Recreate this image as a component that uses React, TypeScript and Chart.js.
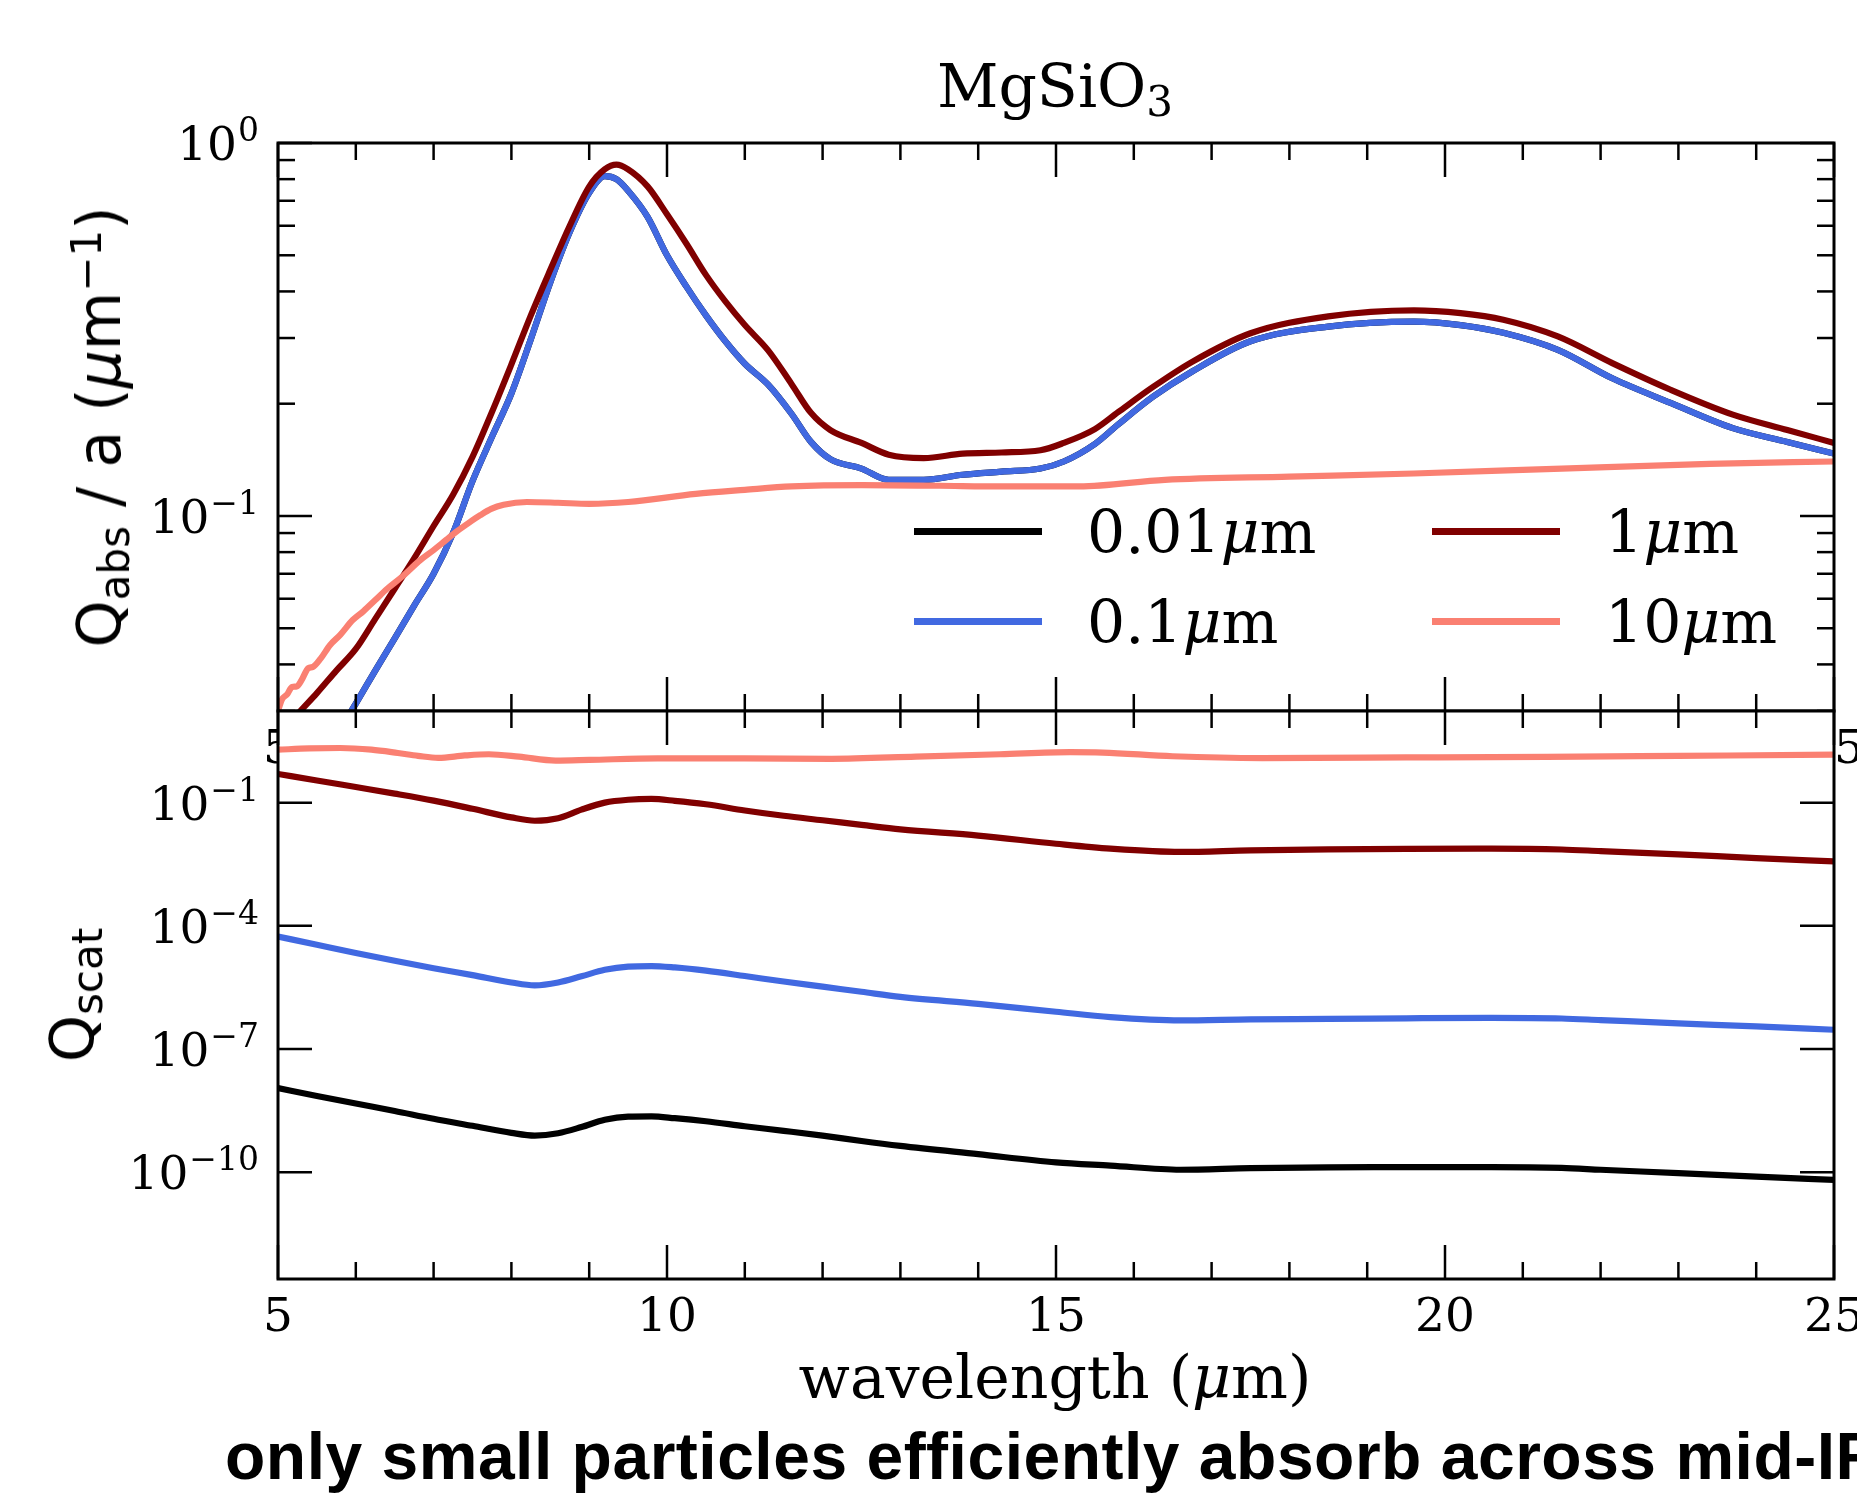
import React, { useEffect, useRef } from "react";
import { Chart, registerables } from "chart.js";

Chart.register(...registerables);

// ---------------- data ----------------
const sizeLabels = ["0.01", "0.1", "1", "10"]; // grain radius in µm
const seriesColors = ["#000000", "#4169E1", "#800000", "#FA8072"];

// absorption panel (Q_abs / a, µm^-1)
const absWavelength = [
  5.0, 5.25, 5.5, 5.75, 6.0, 6.25, 6.5, 6.75, 7.0, 7.25, 7.5, 7.75, 8.0, 8.25, 8.5, 8.75, 9.0, 9.2, 9.35,
  9.5, 9.75, 10.0, 10.25, 10.5, 10.75, 11.0, 11.3, 11.6, 11.85, 12.1, 12.5, 12.85, 13.3, 13.8, 14.3, 14.8,
  15.1, 15.5, 15.8, 16.25, 16.75, 17.5, 18.5, 19.6, 20.2, 20.75, 21.45, 22.15, 22.9, 23.7, 24.4, 25.0,
];
const absQ001 = [
  0.0142, 0.0173, 0.0211, 0.0258, 0.0314, 0.0385, 0.047, 0.0575, 0.07, 0.09, 0.124, 0.163, 0.213, 0.298,
  0.423, 0.577, 0.735, 0.815, 0.8, 0.745, 0.634, 0.5, 0.412, 0.345, 0.294, 0.256, 0.225, 0.188, 0.158,
  0.142, 0.134, 0.125, 0.125, 0.129, 0.1315, 0.134, 0.14, 0.156, 0.176, 0.209, 0.244, 0.294, 0.322, 0.332,
  0.325, 0.31, 0.279, 0.234, 0.201, 0.172, 0.158, 0.147,
];
const absQ01 = [
  0.0142, 0.0173, 0.0211, 0.0258, 0.0314, 0.0385, 0.047, 0.0575, 0.07, 0.09, 0.124, 0.163, 0.213, 0.298,
  0.423, 0.577, 0.735, 0.815, 0.8, 0.745, 0.634, 0.5, 0.412, 0.345, 0.294, 0.256, 0.225, 0.188, 0.158,
  0.142, 0.134, 0.125, 0.125, 0.129, 0.1315, 0.134, 0.14, 0.156, 0.176, 0.209, 0.244, 0.294, 0.322, 0.332,
  0.325, 0.31, 0.279, 0.234, 0.201, 0.172, 0.158, 0.147,
];
const absQ1 = [
  0.0255, 0.0294, 0.0335, 0.0385, 0.044, 0.053, 0.0638, 0.077, 0.094, 0.114, 0.144, 0.19, 0.255, 0.345,
  0.457, 0.6, 0.764, 0.85, 0.875, 0.85, 0.765, 0.644, 0.537, 0.443, 0.376, 0.325, 0.278, 0.226, 0.189,
  0.17, 0.157, 0.146, 0.143, 0.147, 0.148, 0.15, 0.157, 0.171, 0.19, 0.222, 0.259, 0.309, 0.343, 0.356,
  0.35, 0.336, 0.303, 0.257, 0.218, 0.187, 0.17, 0.157,
];
const absWavelength10 = [
  5.0, 5.05, 5.12, 5.18, 5.24, 5.3, 5.39, 5.45, 5.55, 5.67, 5.8, 5.96, 6.1, 6.25, 6.4, 6.59, 6.83, 7.0,
  7.16, 7.3, 7.45, 7.6, 7.74, 7.9, 8.2, 8.6, 9.0, 9.5, 10.37, 11.0, 11.6, 12.5, 13.5, 14.3, 15.3, 16.4,
  18.0, 19.6, 21.5, 23.4, 25.0,
];
const absQ10 = [
  0.03, 0.0322, 0.0333, 0.0348, 0.0349, 0.0362, 0.0391, 0.0394, 0.0415, 0.0451, 0.048, 0.0526, 0.0556,
  0.0595, 0.0637, 0.0686, 0.0762, 0.081, 0.0862, 0.091, 0.0958, 0.1005, 0.1045, 0.1072, 0.109, 0.1085,
  0.1078, 0.109, 0.1146, 0.1175, 0.12, 0.121, 0.1205, 0.12, 0.12, 0.125, 0.1275, 0.13, 0.134, 0.138, 0.14,
];

// scattering panel (Q_scat)
const scatWavelength = [
  5.0, 5.5, 6.0, 6.5, 7.0, 7.5, 8.0, 8.3, 8.6, 8.9, 9.2, 9.5, 9.8, 10.1, 10.5, 11.0, 11.5, 12.0, 12.5,
  13.0, 14.0, 15.0, 15.7, 16.6, 17.5, 18.5, 19.5, 20.6, 21.5, 22.0, 23.0, 24.0, 25.0,
];
const scatQ001 = [
  1.12e-8, 7.2e-9, 4.7e-9, 3.1e-9, 2.0e-9, 1.35e-9, 9.1e-10, 7.8e-10, 8.9e-10, 1.26e-9, 1.9e-9, 2.26e-9,
  2.29e-9, 2.07e-9, 1.74e-9, 1.32e-9, 1.02e-9, 7.8e-10, 5.75e-10, 4.37e-10, 2.75e-10, 1.74e-10, 1.45e-10,
  1.15e-10, 1.26e-10, 1.32e-10, 1.33e-10, 1.33e-10, 1.27e-10, 1.15e-10, 9.5e-11, 7.8e-11, 6.5e-11,
];
const scatQ01 = [
  5.5e-5, 3.47e-5, 2.19e-5, 1.41e-5, 9.3e-6, 6.3e-6, 4.17e-6, 3.55e-6, 4.17e-6, 5.9e-6, 8.5e-6, 1.02e-5,
  1.05e-5, 9.7e-6, 8.1e-6, 6.0e-6, 4.4e-6, 3.3e-6, 2.48e-6, 1.86e-6, 1.26e-6, 8.1e-7, 6.0e-7, 5.0e-7,
  5.3e-7, 5.4e-7, 5.6e-7, 5.75e-7, 5.55e-7, 5.07e-7, 4.23e-7, 3.55e-7, 2.95e-7,
];
const scatQ1 = [
  0.5, 0.347, 0.24, 0.166, 0.112, 0.0708, 0.0437, 0.0363, 0.0417, 0.0676, 0.1, 0.1175, 0.123, 0.111,
  0.0912, 0.0646, 0.0479, 0.0372, 0.0288, 0.0224, 0.0158, 0.01, 0.00759, 0.00631, 0.00692, 0.00731,
  0.0075, 0.00759, 0.00724, 0.00661, 0.0055, 0.00447, 0.00372,
];
const scatWavelength10 = [
  5.0, 5.4, 5.8, 6.2, 6.54, 6.8, 7.06, 7.4, 7.71, 8.1, 8.57, 9.0, 9.88, 11.0, 12.11, 13.2, 14.28, 15.18,
  15.6, 16.5, 17.65, 19.5, 21.3, 23.0, 25.0,
];
const scatQ10 = [
  1.95, 2.09, 2.14, 1.95, 1.62, 1.38, 1.23, 1.41, 1.51, 1.32, 1.06, 1.1, 1.2, 1.2, 1.17, 1.32, 1.51, 1.7,
  1.66, 1.35, 1.22, 1.26, 1.31, 1.38, 1.47,
];

// ticks and ranges
const xMajorTicks = [5, 10, 15, 20, 25];
const xMinorTicks = [6, 7, 8, 9, 11, 12, 13, 14, 16, 17, 18, 19, 21, 22, 23, 24];
const absMajorTicks = [0.1, 1];
const absMinorTicks = [0.03, 0.04, 0.05, 0.06, 0.07, 0.08, 0.09, 0.2, 0.3, 0.4, 0.5, 0.6, 0.7, 0.8, 0.9];
const scatMajorTicks = [1e-1, 1e-4, 1e-7, 1e-10];
const xRange = [5, 25];
const absRange = [0.03, 1];
const scatRange = [Math.pow(10, -12.6), Math.pow(10, 1.232)];

// ---------------- layout ----------------
const W = 1857;
const H = 1502;
const AX_LEFT = 278;
const AX_RIGHT = 1834;
const TOP_Y0 = 143;
const MID_Y = 711;
const BOT_Y1 = 1279;
const TOP_CANVAS_H = 780;
const BOT_CANVAS_TOP = 700;
const BOT_CANVAS_H = H - BOT_CANVAS_TOP;

const MAJ = 34;
const MIN = 17;
const TICK_FONT = 47;
const LINE_W = 6.2;
const SERIF = '"DejaVu Serif", serif';
const SANS = '"DejaVu Sans", sans-serif';

function supMinus(e: number) {
  return e < 0 ? "\u2212" + String(-e) : String(e);
}

function framePlugin(cfg: any) {
  return {
    id: "mplFrame",
    beforeDatasetsDraw(chart: any) {
      if (!cfg.fill) return;
      const { ctx, chartArea: a } = chart;
      ctx.save();
      ctx.fillStyle = "#ffffff";
      ctx.fillRect(a.left, a.top, a.right - a.left, a.bottom - a.top);
      ctx.restore();
    },
    afterDatasetsDraw(chart: any) {
      const { ctx, chartArea: a } = chart;
      const xs = chart.scales.x;
      const ys = chart.scales.y;
      ctx.save();
      ctx.strokeStyle = "#000";
      ctx.lineCap = "butt";
      ctx.lineWidth = 2.5;
      const seg = (x1: number, y1: number, x2: number, y2: number) => {
        ctx.beginPath();
        ctx.moveTo(x1, y1);
        ctx.lineTo(x2, y2);
        ctx.stroke();
      };
      const xt = (vals: number[], len: number) => {
        for (const v of vals) {
          const p = xs.getPixelForValue(v);
          seg(p, a.bottom, p, a.bottom - len);
          seg(p, a.top, p, a.top + len);
        }
      };
      const yt = (vals: number[], len: number) => {
        for (const v of vals) {
          const p = ys.getPixelForValue(v);
          seg(a.left, p, a.left + len, p);
          seg(a.right, p, a.right - len, p);
        }
      };
      xt(cfg.xMajor, MAJ);
      xt(cfg.xMinor, MIN);
      yt(cfg.yMajor, MAJ);
      yt(cfg.yMinor || [], MIN);
      ctx.lineWidth = 3;
      ctx.strokeRect(a.left, a.top, a.right - a.left, a.bottom - a.top);

      // x tick labels
      ctx.fillStyle = "#000";
      ctx.textBaseline = "alphabetic";
      ctx.textAlign = "center";
      ctx.font = `${TICK_FONT}px ${SERIF}`;
      for (const v of cfg.xMajor) {
        ctx.fillText(String(v), xs.getPixelForValue(v), a.bottom + 52);
      }
      // y tick labels 10^n
      ctx.textAlign = "left";
      const supSize = Math.round(TICK_FONT * 0.7);
      for (const v of cfg.yMajor) {
        const p = ys.getPixelForValue(v);
        const exp = supMinus(Math.round(Math.log10(v)));
        ctx.font = `${supSize}px ${SERIF}`;
        const ew = ctx.measureText(exp).width;
        const R = a.left - 19;
        ctx.fillText(exp, R - ew, p + 17 - 19);
        ctx.font = `${TICK_FONT}px ${SERIF}`;
        const bw = ctx.measureText("10").width;
        ctx.fillText("10", R - ew - bw - 1, p + 17);
      }
      ctx.restore();
    },
  };
}

function makeDataset(i: number, xs: number[], ys: number[]) {
  return {
    label: sizeLabels[i] + "\u00b5m",
    data: xs.map((x, k) => ({ x, y: ys[k] })),
    borderColor: seriesColors[i],
    backgroundColor: seriesColors[i],
    borderWidth: LINE_W,
    pointRadius: 0,
    pointHoverRadius: 0,
    fill: false,
    cubicInterpolationMode: "monotone",
    borderJoinStyle: "round",
    order: 3 - i,
  };
}

function makeConfig(datasets: any[], yRange: number[], pad: any, frameCfg: any) {
  return {
    type: "line",
    data: { datasets },
    options: {
      responsive: false,
      maintainAspectRatio: false,
      devicePixelRatio: 1,
      animation: false,
      events: [],
      layout: { padding: pad },
      plugins: { legend: { display: false }, tooltip: { enabled: false }, title: { display: false } },
      scales: {
        x: { type: "linear", min: xRange[0], max: xRange[1], display: false },
        y: { type: "logarithmic", min: yRange[0], max: yRange[1], display: false },
      },
    },
    plugins: [framePlugin(frameCfg)],
  };
}

const subStyle: React.CSSProperties = { fontSize: "0.7em", verticalAlign: "-0.22em", lineHeight: 0 };
const supStyle: React.CSSProperties = { fontSize: "0.7em", verticalAlign: "0.45em", lineHeight: 0 };

export default function App() {
  const topRef = useRef<HTMLCanvasElement>(null);
  const botRef = useRef<HTMLCanvasElement>(null);

  useEffect(() => {
    document.body.style.margin = "0";
    document.body.style.overflow = "hidden";
    const topChart = new Chart(
      topRef.current as HTMLCanvasElement,
      makeConfig(
        [
          makeDataset(0, absWavelength, absQ001),
          makeDataset(1, absWavelength, absQ01),
          makeDataset(2, absWavelength, absQ1),
          makeDataset(3, absWavelength10, absQ10),
        ],
        absRange,
        { left: AX_LEFT, right: W - AX_RIGHT, top: TOP_Y0, bottom: TOP_CANVAS_H - MID_Y },
        { xMajor: xMajorTicks, xMinor: xMinorTicks, yMajor: absMajorTicks, yMinor: absMinorTicks, fill: false }
      ) as any
    );
    const botChart = new Chart(
      botRef.current as HTMLCanvasElement,
      makeConfig(
        [
          makeDataset(0, scatWavelength, scatQ001),
          makeDataset(1, scatWavelength, scatQ01),
          makeDataset(2, scatWavelength, scatQ1),
          makeDataset(3, scatWavelength10, scatQ10),
        ],
        scatRange,
        {
          left: AX_LEFT,
          right: W - AX_RIGHT,
          top: MID_Y - BOT_CANVAS_TOP,
          bottom: BOT_CANVAS_TOP + BOT_CANVAS_H - BOT_Y1,
        },
        { xMajor: xMajorTicks, xMinor: xMinorTicks, yMajor: scatMajorTicks, yMinor: [], fill: true }
      ) as any
    );
    return () => {
      topChart.destroy();
      botChart.destroy();
    };
  }, []);

  const legendLineLeft = [914, 1432];
  const legendTextLeft = [1087, 1605];
  const legendLineY = [531.7, 621.7];
  const legendBaseline = [553, 643];
  const LEG_FONT = 60;

  const baselineTop = (baseline: number, size: number) => baseline - 0.846 * size;

  return (
    <div style={{ position: "relative", width: W, height: H, overflow: "hidden", background: "#fff" }}>
      <canvas ref={topRef} width={W} height={TOP_CANVAS_H} style={{ position: "absolute", left: 0, top: 0 }} />
      <canvas
        ref={botRef}
        width={W}
        height={BOT_CANVAS_H}
        style={{ position: "absolute", left: 0, top: BOT_CANVAS_TOP }}
      />

      {/* title */}
      <div
        style={{
          position: "absolute",
          left: 1055,
          top: baselineTop(107, 60),
          transform: "translateX(-50%)",
          font: `60px ${SERIF}`,
          lineHeight: "60px",
          whiteSpace: "nowrap",
        }}
      >
        MgSiO<span style={subStyle}>3</span>
      </div>

      {/* y label, top */}
      <div
        style={{
          position: "absolute",
          left: 99,
          top: (TOP_Y0 + MID_Y) / 2,
          transform: "translate(-50%, -50%) rotate(-90deg)",
          font: `60px ${SANS}`,
          lineHeight: "60px",
          whiteSpace: "nowrap",
        }}
      >
        Q<span style={subStyle}>abs</span> / a (<span style={{ fontStyle: "italic" }}>μ</span>m
        <span style={supStyle}>{"\u22121"}</span>)
      </div>

      {/* y label, bottom */}
      <div
        style={{
          position: "absolute",
          left: 72,
          top: (MID_Y + BOT_Y1) / 2,
          transform: "translate(-50%, -50%) rotate(-90deg)",
          font: `60px ${SANS}`,
          lineHeight: "60px",
          whiteSpace: "nowrap",
        }}
      >
        Q<span style={subStyle}>scat</span>
      </div>

      {/* x label */}
      <div
        style={{
          position: "absolute",
          left: 1055,
          top: baselineTop(1398, 60),
          transform: "translateX(-50%)",
          font: `60px ${SERIF}`,
          lineHeight: "60px",
          whiteSpace: "nowrap",
        }}
      >
        wavelength (<span style={{ fontStyle: "italic" }}>μ</span>m)
      </div>

      {/* legend */}
      {sizeLabels.map((lab, i) => {
        const col = i < 2 ? 0 : 1;
        const row = i % 2;
        return (
          <React.Fragment key={lab}>
            <div
              style={{
                position: "absolute",
                left: legendLineLeft[col],
                width: 128,
                top: legendLineY[row] - 3.5,
                height: 7,
                background: seriesColors[i],
              }}
            />
            <div
              style={{
                position: "absolute",
                left: legendTextLeft[col],
                top: baselineTop(legendBaseline[row], LEG_FONT),
                font: `${LEG_FONT}px ${SERIF}`,
                lineHeight: `${LEG_FONT}px`,
                whiteSpace: "nowrap",
              }}
            >
              {lab}
              <span style={{ fontStyle: "italic" }}>μ</span>m
            </div>
          </React.Fragment>
        );
      })}

      {/* caption */}
      <div
        style={{
          position: "absolute",
          left: 225,
          width: 1800,
          textAlign: "left",
          top: baselineTop(1479, 66),
          font: `bold 66px "Liberation Sans", Arial, sans-serif`,
          letterSpacing: "0.5px",
          lineHeight: "66px",
          whiteSpace: "nowrap",
        }}
      >
        only small particles efficiently absorb across mid-IR
      </div>
    </div>
  );
}
